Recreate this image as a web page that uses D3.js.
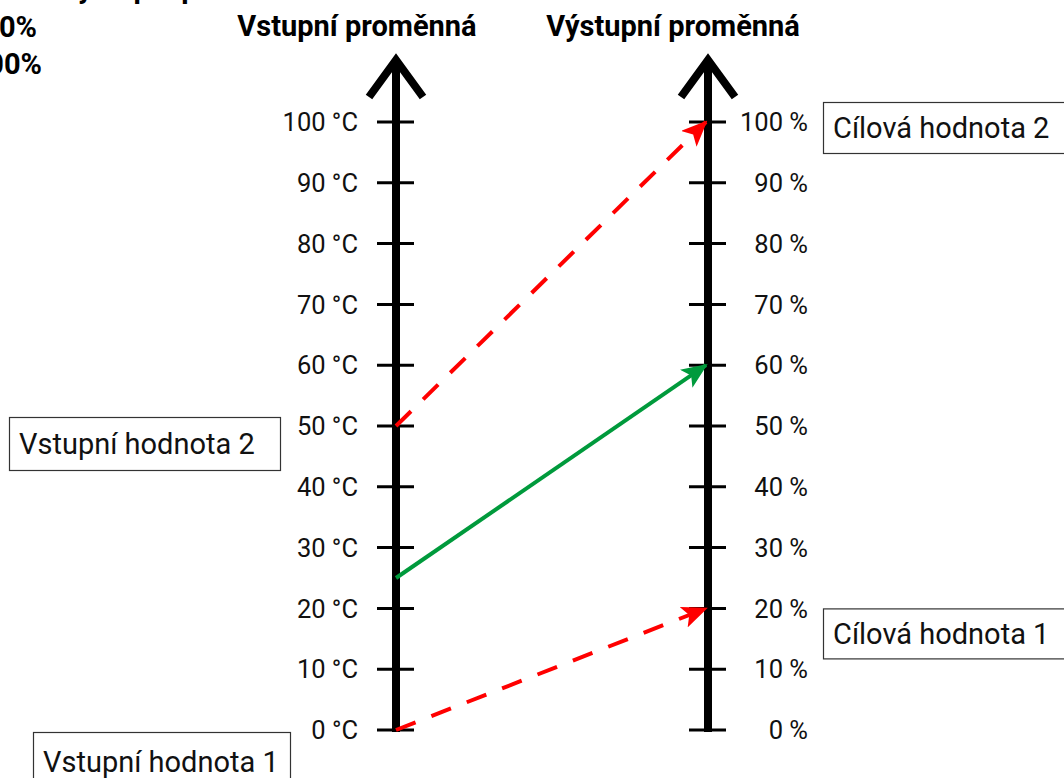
<!DOCTYPE html>
<html><head><meta charset="utf-8">
<script src="https://cdn.jsdelivr.net/npm/d3@7"></script>
<style>
body{margin:0;background:#fff;overflow:hidden}
svg{display:block;font-family:Roboto,"Liberation Sans",sans-serif}
</style></head><body>
<svg id="c" width="1064" height="778"></svg>
<script>
const ticks = [0,10,20,30,40,50,60,70,80,90,100];
const inputUnit = " °C";
const outputUnit = " %";
const axisTitles = ["Vstupní proměnná","Výstupní proměnná"];
const headerLines = ["Vstupní hodnota → výstupní parametr","Vstupní hodnota 1 = 0%","Vstupní hodnota 2 = 100%"];
// mappings: [input value, output value, style]
const mapFrom = [0, 50, 25];
const mapTo = [20, 100, 60];
const mapKind = ["limit","limit","value"];
const inputBoxes = [{label:"Vstupní hodnota 2", v:50},{label:"Vstupní hodnota 1", v:0}];
const outputBoxes = [{label:"Cílová hodnota 2", v:100},{label:"Cílová hodnota 1", v:20}];

const svg = d3.select("#c");
const xIn = 396, xOut = 708;
const y = d3.scaleLinear().domain([0,100]).range([730,122]);

// header (partially clipped, as in the original)
svg.append("text").attr("x",300).attr("y",-2).attr("text-anchor","end")
  .attr("font-weight","bold").attr("font-size",29).text(headerLines[0]);
svg.append("text").attr("x",37).attr("y",37).attr("text-anchor","end")
  .attr("font-weight","bold").attr("font-size",29).text(headerLines[1]);
svg.append("text").attr("x",42).attr("y",74).attr("text-anchor","end")
  .attr("font-weight","bold").attr("font-size",29).text(headerLines[2]);

// titles
svg.append("text").attr("x",357).attr("y",36).attr("text-anchor","middle")
  .attr("font-weight","bold").attr("font-size",29).text(axisTitles[0]);
svg.append("text").attr("x",673).attr("y",36).attr("text-anchor","middle")
  .attr("font-weight","bold").attr("font-size",29).text(axisTitles[1]);

function drawAxis(x, unit, labelX){
  const g = svg.append("g");
  g.append("line").attr("x1",x).attr("x2",x).attr("y1",y(0)+2).attr("y2",59)
    .attr("stroke","#000").attr("stroke-width",8);
  g.append("path").attr("d",`M${x-27},${97} L${x},${60} L${x+27},${97}`)
    .attr("fill","none").attr("stroke","#000").attr("stroke-width",8);
  g.selectAll("line.t").data(ticks).join("line").attr("class","t")
    .attr("x1",x-19).attr("x2",x+18).attr("y1",d=>y(d)).attr("y2",d=>y(d))
    .attr("stroke","#000").attr("stroke-width",3);
  g.selectAll("text.t").data(ticks).join("text").attr("class","t")
    .attr("x",labelX).attr("y",d=>y(d)).attr("dy","0.36em").attr("text-anchor","end")
    .attr("font-size",25.5).attr("fill","#111").text(d=>d+unit);
}
drawAxis(xIn, inputUnit, 358);
drawAxis(xOut, outputUnit, 808);

// markers
const defs = svg.append("defs");
[["red","#ff0000"],["green","#009a3c"]].forEach(([id,c])=>{
  defs.append("marker").attr("id","m-"+id).attr("markerUnits","userSpaceOnUse")
    .attr("viewBox","0 0 26 22").attr("refX",24).attr("refY",11)
    .attr("markerWidth",26).attr("markerHeight",22).attr("orient","auto")
    .append("path").attr("d","M0,0 L26,11 L0,22 L6,11 Z").attr("fill",c);
});

// mapping arrows
mapFrom.forEach((v,i)=>{
  const limit = mapKind[i]==="limit";
  svg.append("line").attr("x1",xIn).attr("y1",y(v))
    .attr("x2",xOut-2).attr("y2",y(mapTo[i]))
    .attr("stroke", limit?"#ff0000":"#009a3c").attr("stroke-width",4)
    .attr("stroke-dasharray", limit?"21,17":null)
    .attr("marker-end", limit?"url(#m-red)":"url(#m-green)");
});

// boxes
function box(x, yTop, w, h, label){
  svg.append("rect").attr("x",x+0.5).attr("y",yTop+0.5).attr("width",w).attr("height",h)
    .attr("fill","#fff").attr("stroke","#333").attr("stroke-width",1.2);
  svg.append("text").attr("x",x+10).attr("y",yTop+h/2).attr("dy","0.36em")
    .attr("font-size",29).attr("fill","#111").text(label);
}
box(9, y(inputBoxes[0].v)-9, 271, 53, inputBoxes[0].label);
box(33, y(inputBoxes[1].v)+2, 257, 60, inputBoxes[1].label);
box(823, y(outputBoxes[0].v)-20, 250, 51, outputBoxes[0].label);
box(823, y(outputBoxes[1].v), 250, 50, outputBoxes[1].label);
</script></body></html>
